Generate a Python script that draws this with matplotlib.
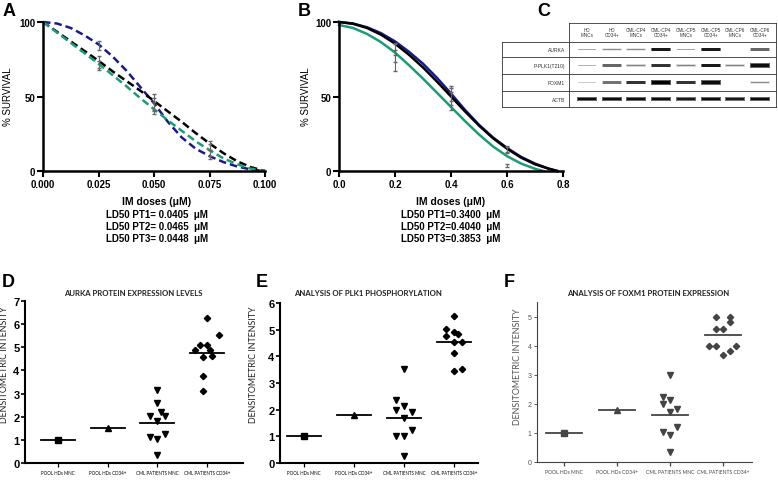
import numpy as np
import matplotlib.pyplot as plt

# ---- data ----
# A: survival vs imatinib dose (uM), fitted curves + mean/SD points
a_curve_dose = [0.0, 0.00625, 0.0125, 0.01875, 0.025, 0.03125, 0.0375, 0.04375, 0.05,
                0.05625, 0.0625, 0.06875, 0.075, 0.08125, 0.0875, 0.09375, 0.1]
a_curve_pt1 = [100, 99, 96, 91, 85, 77, 67.5, 56.5, 45.5, 33, 22.5, 15, 10, 6, 3, 1, 0]
a_curve_pt2 = [100, 93.5, 87, 80.5, 74, 67, 60.5, 54, 47, 40, 33, 25.5, 18.5, 12, 6.5, 2.5, 0]
a_curve_pt3 = [100, 93, 86, 79, 72, 64.5, 57, 49, 41.5, 34, 27, 20, 14, 8.5, 4.5, 1.5, 0]
a_dose = [0.025, 0.05, 0.075]
a_mean = {'pt1': [84, 45, 11], 'pt2': [73, 46, 17], 'pt3': [71, 42, 14]}
a_sd = {'pt1': [3, 4, 3], 'pt2': [4, 6, 3], 'pt3': [3, 4, 4]}

# B: second dose range
b_curve_dose = [0.0, 0.05, 0.1, 0.15, 0.2, 0.25, 0.3, 0.35, 0.4, 0.45, 0.5,
                0.55, 0.6, 0.65, 0.7, 0.75, 0.78]
b_curve_pt1 = [100, 99, 96.5, 92.5, 87, 80, 72, 62.5, 52, 41, 31, 22.5, 15.5, 9.5, 5, 1.5, 0]
b_curve_pt2 = [100, 98.8, 96, 91.5, 85.5, 78, 69.5, 60, 50, 40, 30.5, 22, 15, 9, 4.5, 1.5, 0]
b_curve_pt3_dose = [0.0, 0.05, 0.1, 0.15, 0.2, 0.25, 0.3, 0.35, 0.4, 0.45, 0.5,
                    0.55, 0.6, 0.65, 0.7, 0.73]
b_curve_pt3 = [98, 96, 92, 86.5, 79.5, 71, 62, 52.5, 43, 33.5, 24.5, 16.5, 10, 5, 1.5, 0]
b_dose = [0.2, 0.4, 0.6]
b_mean = {'pt1': [82, 52, 15], 'pt2': [79, 50, 14], 'pt3': [74, 47, 4]}
b_sd = {'pt1': [4, 5, 2], 'pt2': [6, 6, 2], 'pt3': [7, 6, 1]}

# C: western blot band intensity (0 = none, 1 = black)
blot_lanes = ['HD\nMNCs', 'HD\nCD34+', 'CML-CP4\nMNCs', 'CML-CP4\nCD34+',
              'CML-CP5\nMNCs', 'CML-CP5\nCD34+', 'CML-CP6\nMNCs', 'CML-CP6\nCD34+']
blot_rows = ['AURKA', 'P-PLK1(T210)', 'FOXM1', 'ACTB']
blot_aurka = [0.35, 0.45, 0.45, 0.9, 0.35, 0.9, 0.0, 0.6]
blot_plk1 = [0.3, 0.6, 0.5, 0.8, 0.5, 0.9, 0.5, 0.95]
blot_foxm1 = [0.2, 0.55, 0.8, 1.0, 0.8, 0.95, 0.0, 0.45]
blot_actb = [0.95, 0.95, 0.95, 0.95, 0.9, 0.95, 0.9, 0.95]

# D-F: densitometry
groups = ['POOL HDs MNC', 'POOL HDs CD34+', 'CML PATIENTS MNC', 'CML PATIENTS CD34+']
aurka_mnc = [3.16, 2.60, 2.19, 2.02, 2.02, 1.82, 1.24, 1.11, 1.05, 0.33]
aurka_mnc_jit = [0, 0, 0.08, 0.15, -0.15, 0, 0.15, -0.15, 0, 0]
aurka_cd34 = [6.28, 5.52, 5.12, 5.12, 4.88, 4.88, 4.57, 4.62, 3.74, 3.11]
aurka_cd34_jit = [0, 0.24, -0.15, 0, -0.25, 0.05, -0.08, 0.1, -0.08, -0.08]
aurka_hd = [1.0, 1.52]
aurka_lines = [1.0, 1.52, 1.71, 4.77]

plk1_mnc = [3.52, 2.35, 2.13, 2.0, 1.90, 1.69, 1.25, 1.01, 1.01, 0.26]
plk1_mnc_jit = [0, -0.16, 0, -0.16, 0.16, 0, 0.16, -0.16, 0, 0]
plk1_cd34 = [5.53, 5.01, 4.92, 4.76, 4.82, 4.52, 4.52, 4.11, 3.46, 3.51]
plk1_cd34_jit = [0, -0.16, 0, -0.16, 0.08, 0, 0.16, 0, 0, 0.16]
plk1_hd = [1.0, 1.8]
plk1_lines = [1.0, 1.8, 1.69, 4.52]

foxm1_mnc = [3.0, 2.23, 2.12, 2.01, 1.81, 1.72, 1.22, 1.03, 0.92, 0.34]
foxm1_mnc_jit = [0, -0.13, 0, -0.13, 0.13, 0, 0.13, -0.13, 0, 0]
foxm1_cd34 = [5.0, 5.0, 4.81, 4.58, 4.58, 3.98, 3.98, 3.98, 3.68, 3.8]
foxm1_cd34_jit = [-0.14, 0.14, 0.14, -0.14, 0, -0.26, -0.13, 0.25, 0, 0.13]
foxm1_hd = [1.0, 1.8]
foxm1_lines = [1.0, 1.8, 1.62, 4.35]

# ---- layout helpers (pixel coords, origin top-left) ----
W, H = 778, 481
fig = plt.figure(figsize=(W / 100, H / 100), dpi=100)
SANS = ['Liberation Sans', 'DejaVu Sans']
NARROW = ['Lato', 'DejaVu Sans']

def px_axes(x0, y0, x1, y1):
    return fig.add_axes([x0 / W, 1 - y1 / H, (x1 - x0) / W, (y1 - y0) / H])

def ftext(x, y, s, **kw):
    kw.setdefault('family', SANS)
    fig.text(x / W, 1 - y / H, s, **kw)

BLUE, GREEN = '#1b1b86', '#1f9a78'

def style_survival(ax):
    for s in ['top', 'right']:
        ax.spines[s].set_visible(False)
    for s in ['left', 'bottom']:
        ax.spines[s].set_linewidth(1.8)
    ax.tick_params(width=1.5, length=4, labelsize=7, pad=1.5)
    for lab in ax.get_xticklabels() + ax.get_yticklabels():
        lab.set_fontweight('bold')
        lab.set_family(SANS)

# ---- A ----
axA = px_axes(43, 23, 265, 172)
for curve, col in [(a_curve_pt1, BLUE), (a_curve_pt2, 'black'), (a_curve_pt3, GREEN)]:
    axA.plot(a_curve_dose, curve, color=col, lw=1.8, ls=(0, (3, 1.6)), clip_on=False)
for k in ['pt1', 'pt2', 'pt3']:
    axA.errorbar(a_dose, a_mean[k], yerr=a_sd[k], fmt='none', ecolor='#666666',
                 elinewidth=0.8, capsize=1.5)
axA.set_xlim(0, 0.1)
axA.set_ylim(0, 100)
axA.set_xticks([0, 0.025, 0.05, 0.075, 0.1])
axA.set_xticklabels(['0.000', '0.025', '0.050', '0.075', '0.100'])
axA.set_yticks([0, 50, 100])
style_survival(axA)
ftext(8, 97, '% SURVIVAL', rotation=90, ha='center', va='center', fontsize=7)
ftext(157, 202, 'IM doses (\u03bcM)', ha='center', va='center', fontsize=7.5, weight='bold')
for i, s in enumerate(['LD50 PT1= 0.0405  \u03bcM', 'LD50 PT2= 0.0465  \u03bcM', 'LD50 PT3= 0.0448  \u03bcM']):
    ftext(157, 215 + 12 * i, s, ha='center', va='center', fontsize=7, weight='bold')
ftext(3, 11, 'A', fontsize=13, weight='bold', va='center')

# ---- B ----
axB = px_axes(339, 23, 563, 172)
axB.plot(b_curve_dose, b_curve_pt1, color=BLUE, lw=1.8, clip_on=False)
axB.plot(b_curve_dose, b_curve_pt2, color='black', lw=1.8, clip_on=False)
axB.plot(b_curve_pt3_dose, b_curve_pt3, color=GREEN, lw=1.8, clip_on=False)
for k in ['pt1', 'pt2', 'pt3']:
    axB.errorbar(b_dose, b_mean[k], yerr=b_sd[k], fmt='none', ecolor='#666666',
                 elinewidth=0.8, capsize=1.5)
axB.set_xlim(0, 0.8)
axB.set_ylim(0, 100)
axB.set_xticks([0, 0.2, 0.4, 0.6, 0.8])
axB.set_yticks([0, 50, 100])
style_survival(axB)
ftext(306, 97, '% SURVIVAL', rotation=90, ha='center', va='center', fontsize=7)
ftext(451, 202, 'IM doses (\u03bcM)', ha='center', va='center', fontsize=7.5, weight='bold')
for i, s in enumerate(['LD50 PT1=0.3400  \u03bcM', 'LD50 PT2=0.4040  \u03bcM', 'LD50 PT3=0.3853  \u03bcM']):
    ftext(451, 215 + 12 * i, s, ha='center', va='center', fontsize=7, weight='bold')
ftext(298, 11, 'B', fontsize=13, weight='bold', va='center')

# ---- C: western blot ----
axC = px_axes(500, 20, 778, 112)
axC.set_xlim(500, 778)
axC.set_ylim(112, 20)
axC.axis('off')
row_edges = [43, 58, 75, 92, 108]
for y in row_edges:
    axC.plot([502, 776], [y, y], color='#333333', lw=0.6)
axC.plot([569, 776], [24, 24], color='#333333', lw=0.6)
axC.plot([569, 569], [24, 108], color='#333333', lw=0.6)
axC.plot([502, 502], [43, 108], color='#333333', lw=0.6)
axC.plot([776, 776], [24, 108], color='#333333', lw=0.6)
lane_x = np.linspace(587, 760, len(blot_lanes))
for x, lab in zip(lane_x, blot_lanes):
    axC.text(x, 33, lab, ha='center', va='center', fontsize=3.3, family=SANS,
             color='#333333', linespacing=1.1)
for r, (name, vals) in enumerate(zip(blot_rows, [blot_aurka, blot_plk1, blot_foxm1, blot_actb])):
    yc = (row_edges[r] + row_edges[r + 1]) / 2
    axC.text(565, yc, name, ha='right', va='center', fontsize=3.6, family=SANS, color='#333333')
    for x, v in zip(lane_x, vals):
        if v <= 0:
            continue
        g = 1 - v
        axC.barh(yc, 20, left=x - 10, height=1.2 + 3.0 * v, color=str(min(1, g + 0.35)), lw=0)
        axC.barh(yc, 18, left=x - 9, height=0.8 + 2.2 * v, color=str(g), lw=0)
ftext(537, 12, 'C', fontsize=13, weight='bold', va='center')

# ---- D, E, F: densitometry scatter ----
def scatter_panel(ax, hd, mnc, mnc_jit, cd34, cd34_jit, lines, ylim, yticks, faint=False):
    col = '#444444' if faint else 'black'
    ax.plot([1], [hd[0]], 's', color=col, ms=4)
    ax.plot([2], [hd[1]], '^', color=col, ms=4)
    ax.plot(3 + np.array(mnc_jit), mnc, 'v', color=col, ms=4, ls='none')
    ax.plot(4 + np.array(cd34_jit), cd34, 'D', color=col, ms=3.2, ls='none')
    for i, lv in enumerate(lines):
        ax.plot([i + 1 - 0.34, i + 1 + 0.34], [lv, lv], color=col, lw=1.3)
    for s in ['top', 'right']:
        ax.spines[s].set_visible(False)
    for s in ['left', 'bottom']:
        ax.spines[s].set_linewidth(0.8 if faint else 1.5)
        ax.spines[s].set_color(col)
    ax.set_ylim(*ylim)
    ax.set_yticks(yticks)
    ax.set_xticks([1, 2, 3, 4])
    ax.set_xticklabels(groups)
    ax.tick_params(axis='x', labelsize=3.6 if faint else 3.25, length=3, width=0.9,
                   pad=2, colors=col)
    if faint:
        ax.tick_params(axis='y', labelsize=5, length=2.5, width=0.7, pad=1.5,
                       colors='#555555')
    else:
        ax.tick_params(axis='y', labelsize=8, length=3, width=1.2, pad=1)
        for lab in ax.get_yticklabels():
            lab.set_fontweight('bold')
    for lab in ax.get_yticklabels():
        lab.set_family(SANS)
    for lab in ax.get_xticklabels():
        lab.set_family(NARROW)

axD = px_axes(25, 302, 243, 464)
axD.set_xlim(1 - 33 / 49.7, 4 + 36 / 49.7)
scatter_panel(axD, aurka_hd, aurka_mnc, aurka_mnc_jit, aurka_cd34, aurka_cd34_jit,
              aurka_lines, (0, 7), range(0, 8))
ftext(133, 294, 'AURKA PROTEIN EXPRESSION LEVELS', ha='center', va='center',
      fontsize=5.6, weight='bold', family=NARROW, color='#222222')
ftext(5, 365, 'DENSITOMETRIC INTENSITY', rotation=90, ha='center', va='center',
      fontsize=6.4, family=NARROW, color='#222222')
ftext(2, 283, 'D', fontsize=13, weight='bold', va='center')

axE = px_axes(280, 304, 478, 464)
axE.set_xlim(1 - 24 / 50, 4 + 24 / 50)
scatter_panel(axE, plk1_hd, plk1_mnc, plk1_mnc_jit, plk1_cd34, plk1_cd34_jit,
              plk1_lines, (0, 6), range(0, 7))
ftext(368, 294, 'ANALYSIS OF PLK1 PHOSPHORYLATION', ha='center', va='center',
      fontsize=5.6, weight='bold', family=NARROW, color='#222222')
ftext(253, 365, 'DENSITOMETRIC INTENSITY', rotation=90, ha='center', va='center',
      fontsize=6.4, family=NARROW, color='#222222')
ftext(256, 283, 'E', fontsize=13, weight='bold', va='center')

axF = px_axes(537, 303, 752, 463)
axF.set_xlim(1 - 27 / 53, 4 + 29 / 53)
scatter_panel(axF, foxm1_hd, foxm1_mnc, foxm1_mnc_jit, foxm1_cd34, foxm1_cd34_jit,
              foxm1_lines, (0, 5.5), range(0, 6), faint=True)
ftext(648, 294, 'ANALYSIS OF FOXM1 PROTEIN EXPRESSION', ha='center', va='center',
      fontsize=5.6, weight='bold', family=NARROW, color='#222222')
ftext(518, 367, 'DENSITOMETRIC INTENSITY', rotation=90, ha='center', va='center',
      fontsize=6.4, family=NARROW, color='#555555')
ftext(504, 283, 'F', fontsize=13, weight='bold', va='center')

fig.savefig('out.png', dpi=100)
